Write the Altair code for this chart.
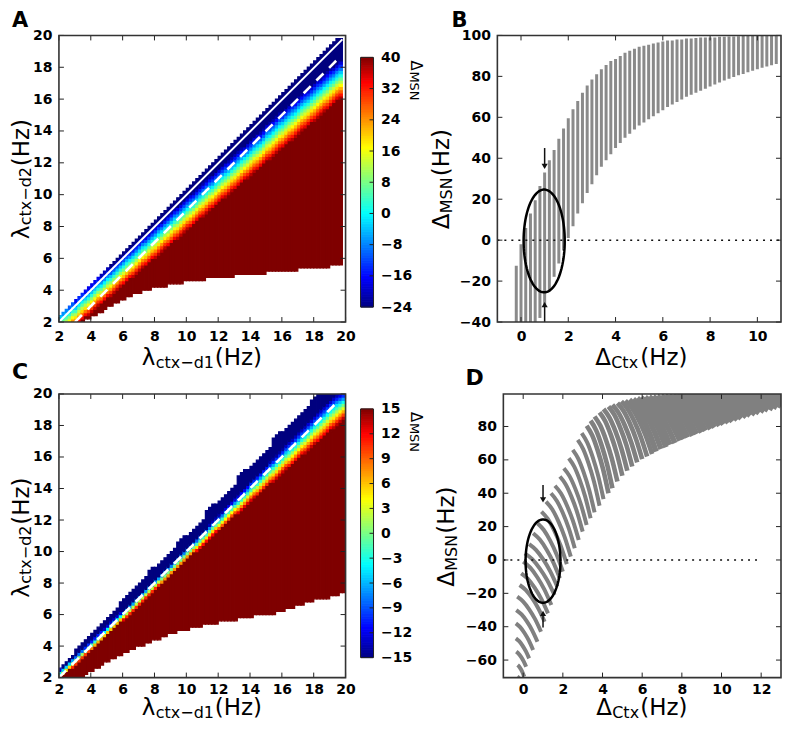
import altair as alt
import numpy as np
import pandas as pd

# ---- Panel A heat map, one entry per 0.2 Hz column (y values in Hz)
a_low = [2.0]*8 + [2.2,2.2,2.4,2.4,2.6,2.6,2.8,3.0,3.0,3.2,3.2,3.4,3.4,3.6,3.6,3.8,3.8,3.8,4.0,4.0,4.0] + [4.2]*5 + [4.4]*5 + [4.6]*7 + [4.8]*9 + [5.0]*10 + [5.2]*10 + [5.4]*10 + [5.6]*4
a_top = [2.4,2.6,2.8,3.0,3.2,3.4,3.6,3.8,4.0,4.2,4.4,4.6,4.8,5.0,5.2,5.4,5.6,5.8,6.0,6.2,
         6.4,6.6,6.8,7.0,7.2,7.4,7.6,7.8,8.0,8.2,8.4,8.6,8.8,9.0,9.2,9.4,9.6,9.8,10.0,10.2,
         10.4,10.6,10.8,11.0,11.2,11.4,11.6,11.8,12.0,12.2,12.4,12.6,12.8,13.0,13.2,13.4,13.6,13.8,14.0,14.2,
         14.4,14.6,14.8,15.0,15.2,15.4,15.6,15.8,16.0,16.2,16.4,16.6,16.8,17.0,17.2,17.4,17.6,17.8,18.0,18.2,
         18.4,18.6,18.8,19.0,19.2,19.4,19.6,19.8,19.8]
a_blue = [2.9,3.0,3.2,3.3,3.5,3.5,3.8,4.0,4.1,4.3,4.5,4.7,4.9,5.0,5.2,5.4,5.5,5.7,5.9,6.1,
          6.3,6.5,6.6,6.8,7.0,7.2,7.4,7.5,7.7,7.9,8.1,8.3,8.4,8.6,8.8,9.0,9.2,9.3,9.5,9.7,
          9.9,10.1,10.2,10.4,10.6,10.8,11.0,11.2,11.3,11.5,11.7,11.9,12.1,12.2,12.4,12.6,12.8,13.0,13.1,13.3,
          13.5,13.7,13.9,14.0,14.2,14.5,14.6,14.8,15.0,15.2,15.3,15.5,15.7,15.9,16.0,16.2,16.4,16.6,16.7,16.9,
          17.1,17.3,17.4,17.6,17.8,18.0,18.1,18.3,18.5]
a_red = [0.9,1.1,1.2,1.4,1.6,1.7,1.9,2.1,2.3,2.4,2.6,2.8,3.0,3.1,3.3,3.5,3.6,3.8,4.0,4.2,
         4.3,4.5,4.7,4.8,5.0,5.2,5.4,5.5,5.7,5.9,6.0,6.2,6.4,6.6,6.7,6.9,7.1,7.2,7.4,7.6,
         7.8,7.9,8.1,8.3,8.5,8.6,8.8,9.0,9.1,9.3,9.5,9.7,9.8,10.0,10.2,10.3,10.5,10.7,10.9,11.0,
         11.2,11.4,11.5,11.7,11.9,12.1,12.2,12.4,12.6,12.8,12.9,13.1,13.3,13.4,13.6,13.8,14.0,14.1,14.3,14.5,
         14.6,14.8,15.0,15.2,15.3,15.5,15.7,15.9,16.0]

# ---- Panel C heat map
c_low = [2.0,2.0,2.0,2.0,2.0,2.0,2.0,2.0,2.2,2.4,2.4,2.6,2.6,2.8,3.0,3.0,3.2,3.2,3.4,3.4,
         3.6,3.6,3.8,3.8,4.0,4.0,4.0,4.2,4.2,4.4,4.4,4.4,4.6,4.6,4.8,4.8,4.8,5.0,5.0,5.0,
         5.0,5.2,5.2,5.2,5.2,5.4,5.4,5.4,5.4,5.4,5.6,5.6,5.6,5.6,5.6,5.6,5.8,5.8,5.8,5.8,
         5.8,6.0,6.0,6.0,6.0,6.0,6.0,6.0,6.2,6.2,6.2,6.4,6.4,6.4,6.6,6.6,6.6,6.8,6.8,6.8,
         7.0,7.0,7.0,7.0,7.0,7.2,7.2,7.2,7.4,7.4]
c_top = [2.6,2.8,3.0,3.2,3.4,3.8,4.0,4.2,4.4,4.6,4.8,5.0,5.2,5.4,5.6,5.8,6.0,6.2,6.4,6.8,
         7.0,7.2,7.4,7.6,7.8,8.0,8.2,8.4,8.8,9.0,9.0,9.2,9.4,9.6,9.8,10.0,10.2,10.6,10.8,11.0,
         11.0,11.2,11.4,11.6,11.8,12.0,12.6,12.8,13.0,13.0,13.2,13.4,13.6,13.8,14.0,14.2,14.8,15.0,15.2,15.2,
         15.4,15.6,15.8,16.0,16.2,16.4,16.6,17.2,17.4,17.6,17.6,17.8,18.0,18.2,18.4,18.6,18.8,19.0,19.2,19.6,
         19.8,20.0,20.0,20.0,20.0,20.0,20.0,20.0,20.0,20.0]
c_blue = [2.55,2.7,2.9,3.1,3.3,3.45,3.65,3.85,4.0,4.2,4.4,4.6,4.8,5.0,5.15,5.35,5.55,5.75,5.95,6.15,
          6.3,6.5,6.7,6.9,7.1,7.3,7.5,7.7,7.9,8.1,8.3,8.5,8.7,8.9,9.1,9.3,9.5,9.7,9.9,10.1,
          10.3,10.5,10.7,10.9,11.1,11.3,11.5,11.75,11.95,12.15,12.35,12.55,12.8,13.0,13.2,13.4,13.6,13.85,14.05,14.25,
          14.5,14.7,14.9,15.1,15.3,15.5,15.75,15.95,16.15,16.35,16.55,16.8,17.0,17.2,17.4,17.6,17.8,18.0,18.25,18.45,
          18.65,18.85,19.05,19.25,19.45,19.65,19.85,20.0,20.1,20.2]
c_red = [1.9,2.1,2.3,2.5,2.6,2.8,3.0,3.2,3.4,3.6,3.75,3.9,4.1,4.3,4.5,4.7,4.9,5.1,5.3,5.5,
         5.65,5.8,6.0,6.2,6.4,6.6,6.8,7.0,7.2,7.4,7.6,7.8,7.9,8.1,8.3,8.5,8.7,8.9,9.1,9.3,
         9.5,9.7,9.9,10.0,10.2,10.4,10.6,10.8,11.0,11.2,11.3,11.5,11.7,11.9,12.1,12.3,12.4,12.6,12.8,13.0,
         13.2,13.4,13.5,13.7,13.9,14.1,14.3,14.4,14.6,14.8,15.0,15.2,15.3,15.5,15.7,15.9,16.1,16.2,16.4,16.6,
         16.8,16.9,17.1,17.3,17.5,17.7,17.8,18.0,18.2,18.4]

# ---- Panel B bars
b_x = [-0.2,0.0,0.2,0.4,0.6,0.8,1.0,1.2,1.4,1.6,1.8,2.0,2.2,2.4,2.6,2.8,3.0,3.2,3.4,3.6,
       3.8,4.0,4.2,4.4,4.6,4.8,5.0,5.2,5.4,5.6,5.8,6.0,6.2,6.4,6.6,6.8,7.0,7.2,7.4,7.6,
       7.8,8.0,8.2,8.4,8.6,8.8,9.0,9.2,9.4,9.6,9.8,10.0,10.2,10.4,10.6,10.8]
b_top = [-12.5,-2,6,13,19.5,26.5,33,39,44,49.5,54.5,59.5,64,68,72,75.5,78.5,81,83.5,85.5,
         87.5,88.5,90,91.5,92.5,93.5,94.5,95,95.5,96,96.5,97,97.5,97.5,98,98,98.5,98.5,98.7,99,
         99,99,99,99.3,99.3,99.5,99.5,99.6,99.7,99.8,99.8,99.9,99.9,100,100,100]
b_bot = [-40,-40,-40,-40,-40,-38,-31.5,-25,-17.9,-11.4,-5,1,6.8,13,18,23,27.3,31.7,35.8,39,
         42,45,47.5,50,52,54,56,57.5,59,60.5,62,63.5,65,66.2,67.5,68.7,70,71,72,73,
         74,75,76,77,78,78.8,79.7,80.5,81.2,82,82.8,83.5,84.2,84.8,85.4,86]

# ---- Panel D stripes: start and end of every arc, and the shared bend of an arc
d_xs = [-0.30,-0.28,-0.35,-0.37,-0.37,-0.35,-0.30,-0.18,-0.10,0.0,0.08,0.30,0.50,0.72,0.92,
        1.15,1.4,1.6,1.85,2.05,2.3,2.5,2.75,2.95,3.2,3.4,3.6,3.85,4.05,4.3,4.5,4.75,4.95,5.15,5.35,
        5.55,5.75,5.95,6.15,6.35,6.55,6.75,6.95,7.15,7.35,7.55,7.75,7.95,8.15,8.35,8.55,8.75,8.95,
        9.15,9.35,9.55,9.75,9.95,10.15,10.35,10.55,10.75,10.95,11.15,11.35,11.6,12.0,12.4,12.8]
d_ys = [-70,-63,-55,-47,-38,-30,-22,-15,-8,-1,4,9.5,16,22,29,
        35,40,44.5,50,55,61,66,72,76,80.5,83.5,86,88.5,90.5,92,93,94,95,95.5,96,
        96.5,97,97.3,97.6,97.8,98,98.2,98.4,98.5,98.6,98.7,98.8,99,99.1,99.2,99.3,99.4,99.5,
        99.6,99.7,99.8,99.9,100,100,100,100,100,100,100,100,100,100,100,100]
d_xe = [-0.05,0.05,0.15,0.30,0.50,0.72,0.90,1.08,1.25,1.42,1.58,1.72,1.85,2.0,2.2,
        2.4,2.6,2.8,3.0,3.2,3.4,3.6,3.85,4.05,4.3,4.5,4.75,5.0,5.25,5.5,5.75,6.0,6.25,6.5,6.7,
        6.95,7.2,7.4,7.65,7.9,8.1,8.3,8.55,8.75,9.0,9.2,9.45,9.65,9.9,10.1,10.35,10.55,10.8,
        11.0,11.25,11.45,11.7,11.9,12.15,12.35,12.6,12.8,13.0,13.2,13.45,13.7,14.1,14.5,14.9]
d_ye = [-74,-70,-64,-59,-54,-49,-43,-37,-32,-27,-21,-16,-11,-7,-2.5,
        2,7,12,17,21,25,28.5,32.5,36.5,40,43,47,50.5,53.5,56,58.5,60.5,62,63.5,65,
        66.5,67.5,69,70,71.5,72.5,73.5,74.5,75.5,76.5,77.5,78.5,79.5,80.5,81.3,82.2,83,84,
        84.8,85.7,86.5,87.3,88,89,89.8,90.6,91.4,92.2,93,94,95,96,97,98]
d_bend_x = [0.0,0.25,0.5,0.75,1.0]
d_bend_y = [0.0,0.14,0.36,0.64,1.0]

# ---- Ticks and other small values
lam_ticks = [2,4,6,8,10,12,14,16,18,20]
b_xticks = [0,2,4,6,8,10]
b_yticks = [-40,-20,0,20,40,60,80,100]
d_xticks = [0,2,4,6,8,10,12]
d_yticks = [-60,-40,-20,0,20,40,60,80]
cb_a_ticks = [-24,-16,-8,0,8,16,24,32,40]
cb_c_ticks = [-15,-12,-9,-6,-3,0,3,6,9,12,15]
jet_fracs = [0.0,0.12,0.375,0.64,0.90,1.0]
jet_colors = ["#00007f","#0000ff","#00ffff","#ffff00","#ff0000","#7f0000"]

FONT = "DejaVu Sans"
GRAY = "#808080"
DARK = "#222222"
H1 = 287
H2 = 284
CELL_STROKE = 1.3
ROW2_BASE = 321
one = pd.DataFrame({"a": [0]})


def guide(lo, hi, values, rng=None, pad=7, **extra):
    sc = dict(domain=[lo, hi], nice=False, zero=False)
    if rng:
        sc["range"] = rng
    ax = alt.Axis(values=values, title=None, grid=False, ticks=False, domain=False,
                  labelFont=FONT, labelFontWeight="bold", labelFontSize=14, labelColor="black",
                  labelPadding=pad, labelOverlap=False, labelFlush=False, format="d", **extra)
    return dict(scale=alt.Scale(**sc), axis=ax, title=None)


def txt(s, x, y, size, angle=0, weight="normal"):
    return alt.Chart(one).mark_text(text=s, align="left", baseline="alphabetic", font=FONT,
                                    fontSize=size, angle=angle, fontWeight=weight,
                                    color="black").encode(x=alt.value(x), y=alt.value(y))


def tick_layers(xt, yt, xg, yg, x0, x1, h, L=5):
    dx = pd.DataFrame({"v": xt})
    dy = pd.DataFrame({"v": yt})
    X = alt.X("v:Q", **xg)
    Y = alt.Y("v:Q", **yg)
    rule = dict(color=DARK, strokeWidth=1)
    return [
        alt.Chart(dx).mark_rule(**rule).encode(x=X, y=alt.value(h), y2=alt.value(h - L)),
        alt.Chart(dx).mark_rule(**rule).encode(x=X, y=alt.value(0), y2=alt.value(L)),
        alt.Chart(dy).mark_rule(**rule).encode(y=Y, x=alt.value(x0), x2=alt.value(x0 + L)),
        alt.Chart(dy).mark_rule(**rule).encode(y=Y, x=alt.value(x1), x2=alt.value(x1 - L)),
    ]


def frame(x0, x1, y0, y1, width=1.6, color="#333333"):
    return alt.Chart(one).mark_rect(fill="transparent", stroke=color, strokeWidth=width).encode(
        x=alt.value(x0), x2=alt.value(x1), y=alt.value(y0), y2=alt.value(y1))


def jet_scale(lo, hi):
    return alt.Scale(domain=[lo + f * (hi - lo) for f in jet_fracs], range=jet_colors, interpolate="rgb")


def cells(low, red, blue, top, lo, hi):
    rows = []
    for i in range(len(low)):
        x0 = 2 + 0.2 * i
        r0 = int(round((low[i] - 2) / 0.2))
        r1 = min(int(round((top[i] - 2) / 0.2)), 90)
        start, prev = r0, None
        for k in range(r0, r1 + 1):
            if k < r1:
                yc = 2 + 0.2 * k + 0.1
                f = min(1.0, max(0.0, (blue[i] - yc) / (blue[i] - red[i])))
            else:
                f = None
            if prev is not None and (f != prev or f not in (0.0, 1.0)):
                rows.append(dict(x0=x0, x1=x0 + 0.2, y0=2 + 0.2 * start, y1=2 + 0.2 * k,
                                 v=lo + (hi - lo) * prev))
                start = k
            prev = f
    return pd.DataFrame(rows)


def heat_panel(low, red, blue, top, lo, hi, lines, letter, letter_y, H, title_base, pad, size, extra=()):
    xg, yg = guide(2, 20, lam_ticks, pad=pad), guide(2, 20, lam_ticks)
    W = 287
    cs = jet_scale(lo, hi)
    heat = alt.Chart(cells(low, red, blue, top, lo, hi)).mark_rect(strokeWidth=CELL_STROKE, opacity=1, clip=True).encode(
        x=alt.X("x0:Q", **xg),
        x2="x1:Q",
        y=alt.Y("y0:Q", **yg),
        y2="y1:Q",
        fill=alt.Fill("v:Q", scale=cs, legend=None),
        stroke=alt.Stroke("v:Q", scale=cs, legend=None),
    )
    layers = [heat]
    for x_, y_, dash, sw in lines:
        kw = {"strokeDash": dash} if dash else {}
        layers.append(alt.Chart(pd.DataFrame({"x": x_, "y": y_})).mark_line(color="white", strokeWidth=sw, **kw).encode(
            x=alt.X("x:Q", **xg), y=alt.Y("y:Q", **yg)))
    layers += tick_layers(lam_ticks, lam_ticks, xg, yg, 0, W, H)
    layers.append(frame(0, W, 0, H))
    layers += [
        txt("λ", 83, title_base, 23), txt("ctx−d1", 97, title_base + 3, 16), txt("(Hz)", 156, title_base, 23),
        txt("λ", -30, 204, 23, 270), txt("ctx−d2", -28, 190, 16, 270), txt("(Hz)", -30, 131, 23, 270),
        txt(letter, -47, letter_y, size, 0, "bold"),
    ]
    layers += list(extra)
    return alt.layer(*layers).properties(width=W, height=H)


def colorbar(lo, hi, ticks, y0, y1, panel_w, title_y, H):
    n = 96
    edges = np.linspace(lo, hi, n + 1)
    df = pd.DataFrame({"v0": edges[:-1], "v1": edges[1:], "v": (edges[:-1] + edges[1:]) / 2})
    yg = guide(lo, hi, ticks, rng=[y1, y0], orient="right", offset=13 - panel_w)
    cs = jet_scale(lo, hi)
    bar = alt.Chart(df).mark_rect(strokeWidth=0.9, opacity=1).encode(
        x=alt.value(0.5), x2=alt.value(12.5),
        y=alt.Y("v0:Q", **yg), y2="v1:Q",
        fill=alt.Fill("v:Q", scale=cs, legend=None),
        stroke=alt.Stroke("v:Q", scale=cs, legend=None))
    tk = alt.Chart(pd.DataFrame({"v": ticks[1:-1]})).mark_rule(color=DARK, strokeWidth=1).encode(
        y=alt.Y("v:Q", **yg), x=alt.value(9), x2=alt.value(13))
    return alt.layer(
        bar, tk, frame(0, 13, y0, y1, 1.0, "#222222"),
        txt("Δ", 51, title_y, 15, 90), txt("MSN", 50, title_y + 11, 13, 90),
    ).properties(width=panel_w, height=H)


def ellipse_layer(cx, cy, a, b, xg, yg):
    th = np.linspace(0, 2 * np.pi, 91)
    df = pd.DataFrame({"x": cx + a * np.cos(th), "y": cy + b * np.sin(th), "o": np.arange(91)})
    return alt.Chart(df).mark_line(color="black", strokeWidth=2.5).encode(
        x=alt.X("x:Q", **xg), y=alt.Y("y:Q", **yg), order="o:Q")


def arrow_layers(ax, y0, y1, head, shape, xg, yg):
    a = alt.Chart(pd.DataFrame({"x": [ax], "y0": [y0], "y1": [y1]})).mark_rule(color="#111111", strokeWidth=1.5).encode(
        x=alt.X("x:Q", **xg), y=alt.Y("y0:Q", **yg), y2="y1:Q")
    h = alt.Chart(pd.DataFrame({"x": [ax], "y": [head]})).mark_point(
        shape=shape, filled=True, size=38, color="#111111", opacity=1).encode(
        x=alt.X("x:Q", **xg), y=alt.Y("y:Q", **yg))
    return [a, h]


def zero_line(x0, x1, xg, yg):
    return alt.Chart(pd.DataFrame({"x": [x0], "x1": [x1], "y": [0]})).mark_rule(
        color="#111111", strokeWidth=1.5, strokeDash=[2, 5]).encode(
        x=alt.X("x:Q", **xg), x2="x1:Q", y=alt.Y("y:Q", **yg))


def delta_labels(hx, dx_sub, dx_hz, ybase, vy_d, vy_sub, vy_hz, vx, letter, lx, ly, size):
    return [
        txt("Δ", hx, ybase, 23), txt("Ctx", dx_sub, ybase + 3, 16), txt("(Hz)", dx_hz, ybase, 23),
        txt("Δ", vx, vy_d, 23, 270), txt("MSN", vx + 3, vy_sub, 16, 270), txt("(Hz)", vx, vy_hz, 23, 270),
        txt(letter, lx, ly, size, 0, "bold"),
    ]


# ---- Panel A
bounds_mark = alt.Chart(one).mark_rule(opacity=0, strokeWidth=0).encode(
    x=alt.value(-51), x2=alt.value(-51), y=alt.value(-27), y2=alt.value(-27))
chart_a = heat_panel(a_low, a_red, a_blue, a_top, -24, 40,
                     [([2, 19.8], [2, 19.75], None, 2), ([3, 19.5], [2, 18.5], [10, 8], 2.6)],
                     "A", -8, H1, 330, 7, 21, extra=[bounds_mark])
# ---- Panel C
chart_c = heat_panel(c_low, c_red, c_blue, c_top, -15, 15,
                     [([2, 19.3], [2, 19.3], [10, 8], 2.6)],
                     "C", -15, H2, ROW2_BASE, 5, 22)
cb_a = colorbar(-24, 40, cb_a_ticks, 22, 272, 128, 25, H1)
cb_c = colorbar(-15, 15, cb_c_ticks, 15, 264, 128, 18, H2)

# ---- Panel B  (its column starts at the same place as panel D's, so its x range starts before 0)
bxg = guide(-1, 11, b_xticks, rng=[-6, 278])
byg = guide(-40, 100, b_yticks, offset=6)
bars = alt.Chart(pd.DataFrame({"x": b_x, "t": b_top, "b": b_bot})).mark_rule(color="#8a8a8a", strokeWidth=3, clip=True).encode(
    x=alt.X("x:Q", **bxg),
    y=alt.Y("b:Q", **byg), y2="t:Q")
chart_b = alt.layer(
    bars, zero_line(-1, 11, bxg, byg), ellipse_layer(0.98, -0.4, 0.87, 25.1, bxg, byg),
    *arrow_layers(1, 45, 36, 36, "triangle-down", bxg, byg),
    *arrow_layers(1, -40, -31.5, -31.5, "triangle-up", bxg, byg),
    *tick_layers(b_xticks, b_yticks, bxg, byg, -6, 278, H1), frame(-6, 278, 0, H1),
    *delta_labels(92, 108, 137, 330, 194, 178, 141, -54, "B", -52, -8, 21),
).properties(width=278, height=H1)

# ---- Panel D
dxg = guide(-1, 13, d_xticks, pad=5)
dyg = guide(-70.5, 99.5, d_yticks)
rows = []
for k, (xs_, ys_, xe_, ye_) in enumerate(zip(d_xs, d_ys, d_xe, d_ye)):
    for o, (fx, fy) in enumerate(zip(d_bend_x, d_bend_y)):
        rows.append({"k": k, "o": o, "x": xs_ + fx * (xe_ - xs_), "y": ys_ + fy * (ye_ - ys_)})
df_st = pd.DataFrame(rows)


def stripe_layer(df, w):
    return alt.Chart(df).mark_line(color=GRAY, strokeWidth=w, clip=True, interpolate="monotone").encode(
        x=alt.X("x:Q", **dxg), y=alt.Y("y:Q", **dyg), detail="k:N", order="o:Q")


chart_d = alt.layer(
    stripe_layer(df_st[df_st.k < 24], 4), stripe_layer(df_st[(df_st.k >= 24) & (df_st.k < 34)], 4.6),
    stripe_layer(df_st[df_st.k >= 34], 5.5),
    zero_line(-1, 12, dxg, dyg), ellipse_layer(1.0, -0.7, 0.88, 25.0, dxg, dyg),
    *arrow_layers(1, 45, 36, 36, "triangle-down", dxg, dyg),
    *arrow_layers(1, -40.5, -32, -32, "triangle-up", dxg, dyg),
    *tick_layers(d_xticks, d_yticks, dxg, dyg, 0, 278, H2), frame(0, 278, 0, H2),
    *delta_labels(93, 109, 137, ROW2_BASE, 193, 177, 140, -49, "D", -38, -9, 22),
).properties(width=278, height=H2)

chart = alt.concat(chart_a, cb_a, chart_b, chart_c, cb_c, chart_d, columns=3, align="none", bounds="flush",
                   spacing=alt.RowColnumber(row=72, column=15)).resolve_scale(
    fill="independent", stroke="independent").properties(
    padding={"left": 0, "top": 0, "right": -4, "bottom": -1}, background="white").configure_view(stroke=None)

chart.save("out.html", embed_options={"renderer": "svg", "actions": False})
